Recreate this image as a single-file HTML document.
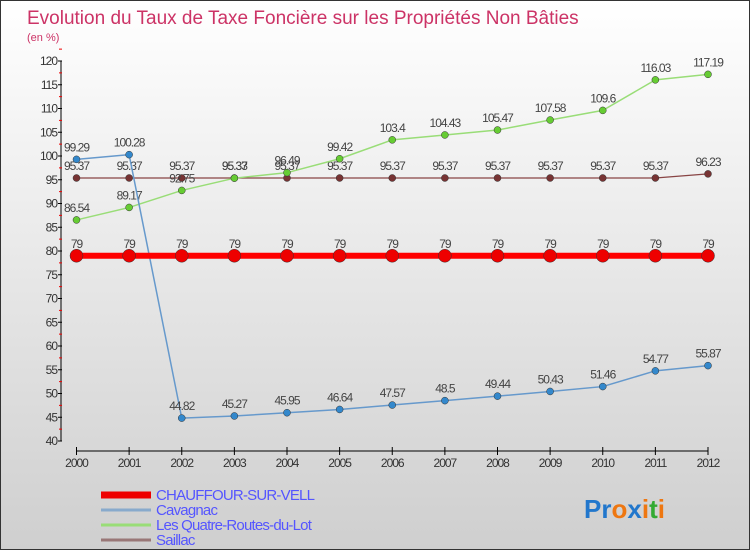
<!DOCTYPE html>
<html><head><meta charset="utf-8"><style>
body{margin:0}
#wrap{width:750px;height:550px;position:relative;overflow:hidden;background:linear-gradient(#fff,#f3f3f3 25%,#d6d6d6 85%,#cfcfcf);border:1px solid #333;box-sizing:border-box;font-family:"Liberation Sans",sans-serif}
svg{position:absolute;left:0;top:0}
</style></head><body>
<div id="wrap">
<svg id="c" width="750" height="550">
<text x="26" y="23" font-size="19" fill="#cc3366">Evolution du Taux de Taxe Foncière sur les Propriétés Non Bâties</text>
<text x="26" y="40" font-size="11" fill="#cc3366">(en %)</text>
<g id="axes"></g><g id="series"></g><g id="legend"></g>
<text x="583" y="517" font-size="26" font-weight="bold"><tspan fill="#2277cc">Pr</tspan><tspan fill="#ee7711">o</tspan><tspan fill="#2277cc">x</tspan><tspan fill="#ee7711">i</tspan><tspan fill="#33aa33">t</tspan><tspan fill="#ee7711">i</tspan></text>
</svg></div>
<script>
const years=[2000,2001,2002,2003,2004,2005,2006,2007,2008,2009,2010,2011,2012];
const yTicks=[40,45,50,55,60,65,70,75,80,85,90,95,100,105,110,115,120];
const chauffour=[79,79,79,79,79,79,79,79,79,79,79,79,79];
const cavagnac=[99.29,100.28,44.82,45.27,45.95,46.64,47.57,48.5,49.44,50.43,51.46,54.77,55.87];
const quatre=[86.54,89.17,92.75,95.33,96.49,99.42,103.4,104.43,105.47,107.58,109.6,116.03,117.19];
const saillac=[95.37,95.37,95.37,95.37,95.37,95.37,95.37,95.37,95.37,95.37,95.37,95.37,96.23];
const seriesNames=["CHAUFFOUR-SUR-VELL","Cavagnac","Les Quatre-Routes-du-Lot","Saillac"];
const NS="http://www.w3.org/2000/svg";
const X=i=>75.5+i*(707-75.5)/(years.length-1);
const Y=v=>440-(v-40)*380/80;
function mk(p,t,a){const e=document.createElementNS(NS,t);for(const k in a)e.setAttribute(k,a[k]);p.appendChild(e);return e;}
const ax=document.getElementById('axes');
let l=mk(ax,'line',{x1:60,y1:Y(120),x2:60,y2:Y(40),stroke:'#000'});

yTicks.forEach(v=>{mk(ax,'line',{x1:57,x2:61,y1:Y(v),y2:Y(v),stroke:'#000'});
 mk(ax,'line',{x1:58,x2:61,y1:Y(v+2.5),y2:Y(v+2.5),stroke:'#e00'});
 const t=mk(ax,'text',{x:56,y:Y(v)+4,'font-size':12,'text-anchor':'end',fill:'#333','letter-spacing':'-1'});t.textContent=v;
 });
l=mk(ax,'line',{x1:75.5,y1:450,x2:707,y2:450,stroke:'#000'});

years.forEach((y,i)=>{mk(ax,'line',{x1:X(i),x2:X(i),y1:446,y2:454,stroke:'#000'});
 const t=mk(ax,'text',{x:X(i),y:466,'font-size':12,'text-anchor':'middle',fill:'#333','letter-spacing':'-1'});t.textContent=y;
 });
const sg=document.getElementById('series');
function draw(data,name,col,dot,w,r,fmt){
 const g=mk(sg,'g',{});
 
 const p=mk(g,'polyline',{points:data.map((v,i)=>X(i)+','+Y(v)).join(' '),fill:'none',stroke:col,'stroke-width':w});
 data.forEach((v,i)=>{const c=mk(g,'circle',{cx:X(i),cy:Y(v),r:r,fill:dot,stroke:'#333','stroke-width':0.5});
  
  const t=mk(g,'text',{x:X(i),y:Y(v)-8,'font-size':12,'text-anchor':'middle',fill:'#444','letter-spacing':'-1'});t.textContent=v;
  });
}
draw(saillac,'saillac-series','#884444','#773333',1.2,3.5);
draw(quatre,'quatre-routes-series','#99dd77','#66cc33',1.5,3.5);
draw(cavagnac,'cavagnac-series','#6699cc','#3388cc',1.5,3.5);
draw(chauffour,'chauffour-series','#ff0000','#ee0000',6,6.5);
const lg=document.getElementById('legend');
const lc=['#ee0000','#88aacc','#99dd77','#997777'],lw=[7,3,3,3];
seriesNames.forEach((n,i)=>{const y=494+i*15;
 const ln=mk(lg,'line',{x1:100,x2:150,y1:y,y2:y,stroke:lc[i],'stroke-width':lw[i]});
 
 const t=mk(lg,'text',{x:155,y:y+5,'font-size':15,fill:'#5555ff','letter-spacing':'-0.8'});t.textContent=n;
 });
</script>
</body></html>
